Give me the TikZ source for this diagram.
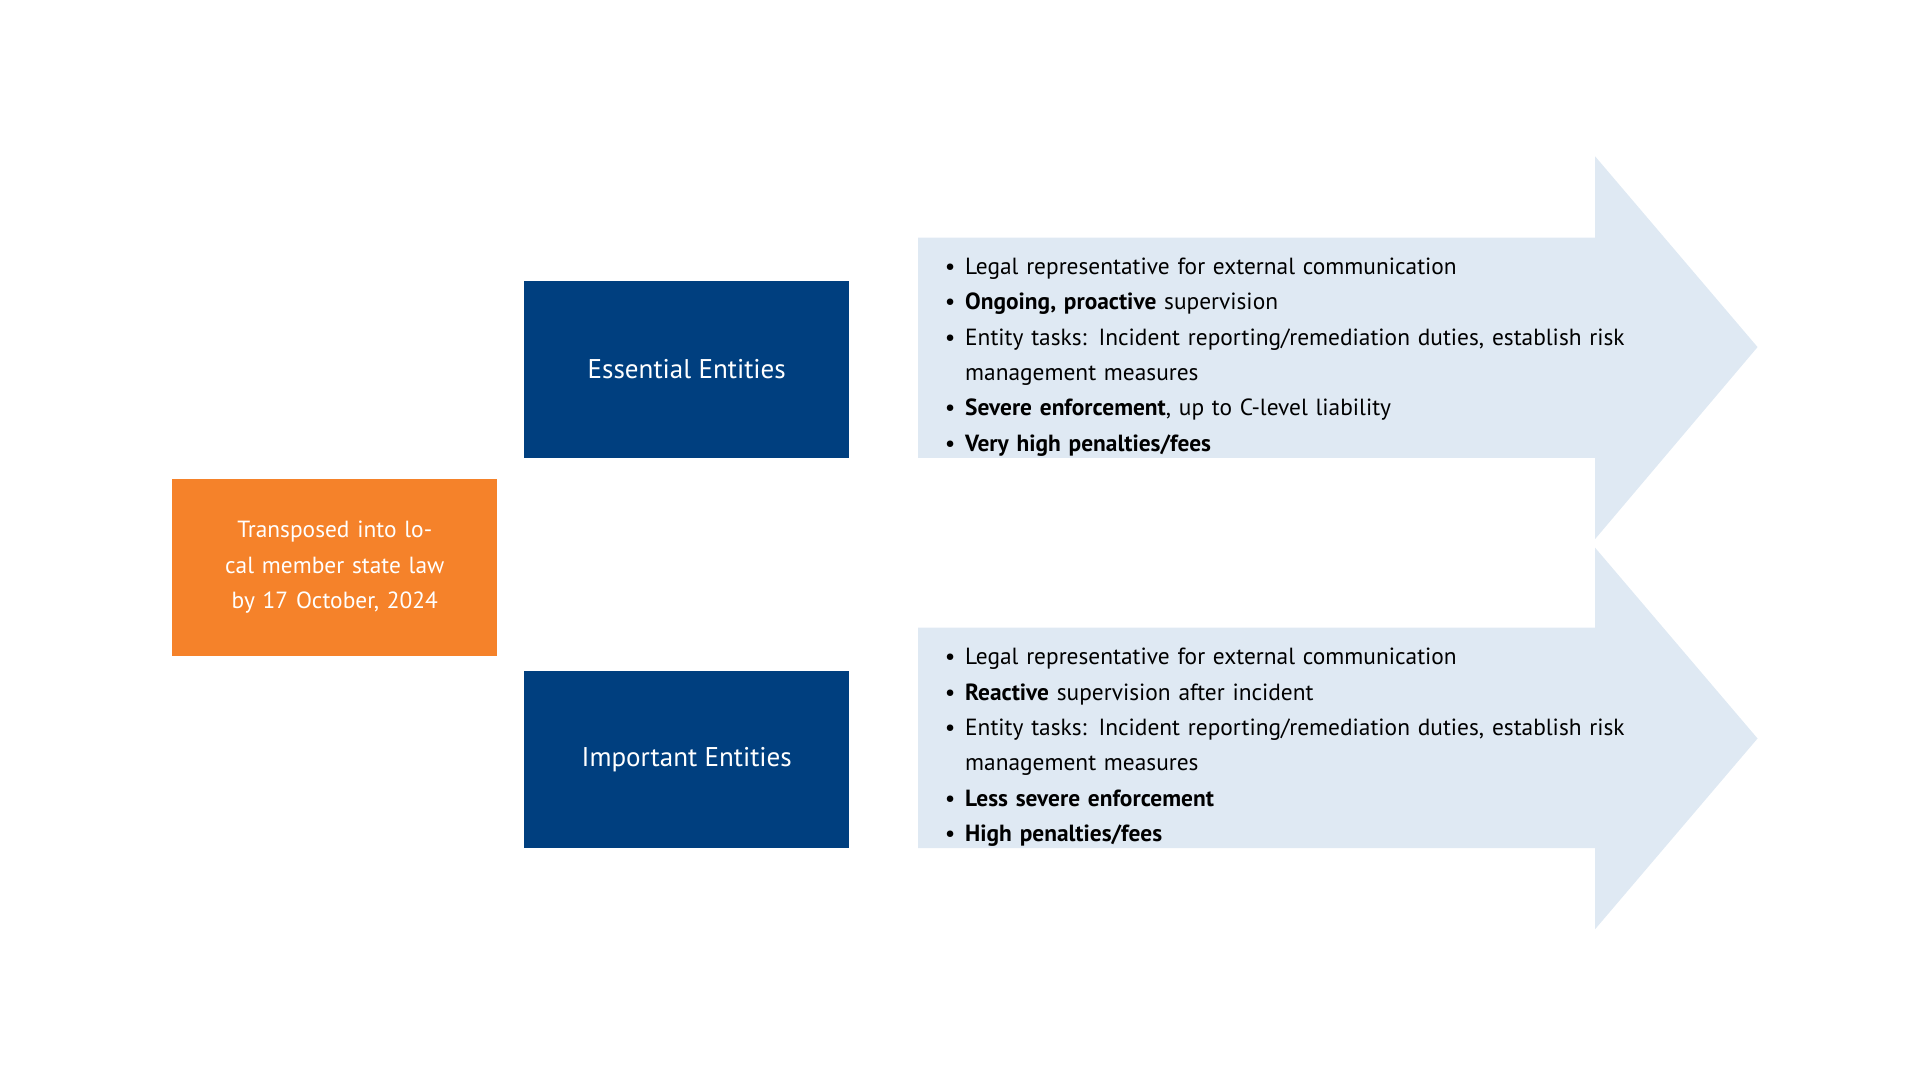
\documentclass[tikz,border=0pt]{standalone}
\usepackage{fontspec}
\setmainfont{PT Sans}
\usepackage{enumitem}
\usetikzlibrary{positioning}
\definecolor{navy}{RGB}{0,63,127}
\definecolor{nisorange}{RGB}{245,130,42}
\definecolor{paleblue}{RGB}{223,233,243}
\tikzset{
  entitybox/.style={fill=navy, text=white, minimum width=264pt, minimum height=144pt,
    inner sep=0pt, font=\fontsize{22}{26}\selectfont},
  lawbox/.style={fill=nisorange, text=white, minimum width=264pt, minimum height=144pt,
    inner sep=0pt, align=center, text width=230pt, font=\fontsize{19}{28.7}\selectfont},
  dutylist/.style={anchor=west, inner sep=0pt, text width=620pt,
    font=\fontsize{19}{28.7}\selectfont},
  bigarrow/.style={fill=paleblue}
}
\newcommand{\dutyitems}[1]{%
  \begin{itemize}[leftmargin=16pt, labelsep=8pt, itemsep=0pt, parsep=0pt, topsep=0pt]
  #1
  \end{itemize}}
\begin{document}
\begin{tikzpicture}[x=1pt, y=-1pt]
\useasboundingbox (0,0) rectangle (1560,877.5);

% arrows behind the lists
\fill[bigarrow] (746,193) -- (1296,193) -- (1296,127) -- (1428,282)
  -- (1296,438) -- (1296,372) -- (746,372) -- cycle;
\fill[bigarrow] (746,510) -- (1296,510) -- (1296,445) -- (1428,600)
  -- (1296,755) -- (1296,689) -- (746,689) -- cycle;

\node[lawbox] (law) at (272,461) {Transposed into local member state law by 17 October, 2024};
\node[entitybox] (essential) at (558,300) {Essential Entities};
\node[entitybox] (important) at (558,617) {Important Entities};

\node[dutylist] (essentialduties) at (768,282.5) {\dutyitems{
  \item Legal representative for external communication
  \item \textbf{Ongoing, proactive} supervision
  \item Entity tasks: Incident reporting/remediation duties, establish risk management measures
  \item \textbf{Severe enforcement}, up to C-level liability
  \item \textbf{Very high penalties/fees}}};

\node[dutylist] (importantduties) at (768,599.5) {\dutyitems{
  \item Legal representative for external communication
  \item \textbf{Reactive} supervision after incident
  \item Entity tasks: Incident reporting/remediation duties, establish risk management measures
  \item \textbf{Less severe enforcement}
  \item \textbf{High penalties/fees}}};

\end{tikzpicture}
\end{document}
